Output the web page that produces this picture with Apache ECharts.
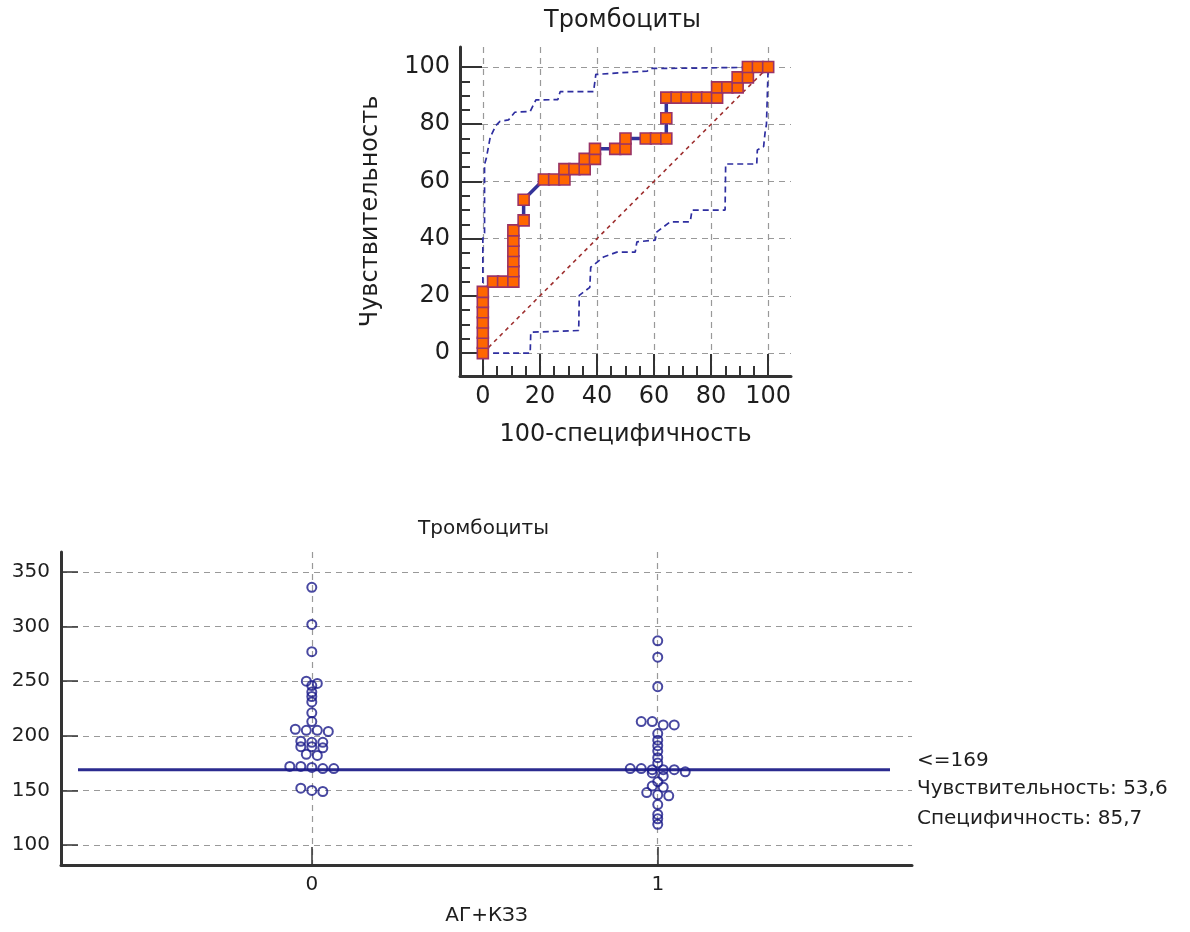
<!DOCTYPE html>
<html><head><meta charset="utf-8">
<script src="https://cdn.jsdelivr.net/npm/echarts@6/dist/echarts.min.js"></script>
<style>html,body{margin:0;padding:0;background:#fff}#c{width:1190px;height:932px}</style>
</head><body><div id="c"></div>
<script>
// ---------- data ----------
const TITLE = 'Тромбоциты';
const ROC_X_NAME = '100-специфичность';
const ROC_Y_NAME = 'Чувствительность';
// ROC curve points (100-specificity, sensitivity)
const ROC_X = [0,0,0,0,0,0,0, 3.6,7.1,10.7, 10.7,10.7,10.7,10.7,10.7, 14.3,14.3, 21.4,25,28.6, 28.6, 32.1,35.7, 35.7, 39.3, 39.3, 46.4, 50, 50, 57.1,60.7,64.3, 64.3, 64.3, 67.9,71.4,75,78.6,82.1, 82.1, 85.7,89.3, 89.3, 92.9, 92.9, 96.4, 100];
const ROC_Y = [0,3.6,7.1,10.7,14.3,17.9,21.4, 25,25,25, 28.6,32.1,35.7,39.3,42.9, 46.4,53.6, 60.7,60.7,60.7, 64.3, 64.3,64.3, 67.9, 67.9, 71.4, 71.4, 71.4, 75, 75,75,75, 82.1, 89.3, 89.3,89.3,89.3,89.3,89.3, 92.9, 92.9,92.9, 96.4, 96.4, 100, 100, 100];
// confidence bounds
const UPPER_X = [0,0,0.6,0.6,1.2,2.6,4.6,6,9,11.2,16.6,18.6,26.3,27.1,38.8,39.6,57.6,58.6,72.5,73,100];
const UPPER_Y = [0,40,42,66,68,75.5,79.6,81,81.5,84.2,84.5,88.5,88.6,91.4,91.4,97.4,98.6,99.5,99.6,100,100];
const LOWER_X = [3.6,16.6,16.8,33.6,33.8,37.5,37.8,42.3,47,53.4,54,60.4,61,65.7,72.7,73.3,84.9,85.1,96,96.2,98.4,98.9,99.4,100];
const LOWER_Y = [0,0,7.3,7.9,20.2,23,30,33.6,35.3,35.3,38.9,39.5,42.4,45.9,45.9,50,50,66.1,66.1,71,72.2,77,80,100];
const DIAG_X = [0,100];
const DIAG_Y = [0,100];
const ROC_TICKS = [0,20,40,60,80,100];
const ROC_MINOR = [5,10,15,25,30,35,45,50,55,65,70,75,85,90,95];

// dot plot
const GROUP_NAME = 'АГ+КЗЗ';
const GROUPS = ['0','1'];
const GROUP0 = [336,302,277,250,248,246,240,236,231,221,213,206,205,205,204,195,194,194,190,190,189,183,182,172,172,171,170,170,152,150,149];
const GROUP1 = [287,272,245,213,213,210,210,202,196,191,186,180,175,170,170,169,169,169,167,166,163,158,154,153,148,146,145,137,128,124,119];
const CUTOFF = 169;
const SENS = '53,6';
const SPEC = '85,7';
const DOT_TICKS = [100,150,200,250,300,350];

// ---------- styles ----------
const FONT = 'DejaVu Sans';
const AX = '#333333';
const TXT = '#1e1e1e';
const GRIDLINE = {color:'#999999', width:1.2, type:[6,5]};
const pairs = (xs, ys) => xs.map((x,i)=>[x, ys[i]]);

const chart = echarts.init(document.getElementById('c'));

const option = {
  animation:false,
  backgroundColor:'#ffffff',
  textStyle:{fontFamily:FONT},
  grid:[
    {left:460, top:47, width:331, height:329},
    {left:61, top:552, width:851, height:313}
  ],
  xAxis:[
    {gridIndex:0, type:'value', min:-8, max:108, position:'bottom',
     axisLine:{onZero:false, lineStyle:{color:AX, width:3}},
     axisTick:{inside:true, length:22, lineStyle:{color:AX, width:2}, customValues:ROC_TICKS},
     axisLabel:{customValues:ROC_TICKS, fontSize:24, color:TXT, margin:9, fontFamily:FONT},
     splitLine:{show:true, lineStyle:GRIDLINE},
     name:ROC_X_NAME, nameLocation:'middle', nameGap:47,
     nameTextStyle:{fontSize:24, color:TXT, fontFamily:FONT}},
    {gridIndex:0, type:'value', min:-8, max:108, position:'bottom',
     axisLine:{show:false, onZero:false},
     axisTick:{inside:true, length:10, lineStyle:{color:AX, width:2}, customValues:ROC_MINOR},
     axisLabel:{show:false}, splitLine:{show:false}},
    {gridIndex:1, type:'value', min:-0.725, max:1.735, position:'bottom',
     axisLine:{onZero:false, lineStyle:{color:AX, width:3}},
     axisTick:{inside:true, length:18, lineStyle:{color:AX, width:1.5}, customValues:[0,1]},
     axisLabel:{customValues:[0,1], formatter:v=>GROUPS[Math.round(v)], fontSize:20, color:TXT, margin:10, fontFamily:FONT},
     splitLine:{show:true, lineStyle:GRIDLINE},
     name:GROUP_NAME, nameLocation:'middle', nameGap:41,
     nameTextStyle:{fontSize:20, color:TXT, fontFamily:FONT}}
  ],
  yAxis:[
    {gridIndex:0, type:'value', min:-8, max:107, position:'left',
     axisLine:{onZero:false, lineStyle:{color:AX, width:3}},
     axisTick:{inside:true, length:22, lineStyle:{color:AX, width:2}, customValues:ROC_TICKS},
     axisLabel:{customValues:ROC_TICKS, fontSize:24, color:TXT, margin:10, fontFamily:FONT},
     splitLine:{show:true, lineStyle:GRIDLINE},
     name:ROC_Y_NAME, nameLocation:'middle', nameGap:77,
     nameTextStyle:{fontSize:24, color:TXT, fontFamily:FONT}},
    {gridIndex:0, type:'value', min:-8, max:107, position:'left',
     axisLine:{show:false, onZero:false},
     axisTick:{inside:true, length:10, lineStyle:{color:AX, width:2}, customValues:ROC_MINOR},
     axisLabel:{show:false}, splitLine:{show:false}},
    {gridIndex:1, type:'value', min:81.7, max:368.3, position:'left',
     axisLine:{onZero:false, lineStyle:{color:AX, width:3}},
     axisTick:{inside:true, length:17, lineStyle:{color:AX, width:1.5}, customValues:DOT_TICKS},
     axisLabel:{customValues:DOT_TICKS, fontSize:20, color:TXT, margin:11, fontFamily:FONT},
     splitLine:{show:true, lineStyle:GRIDLINE}}
  ],
  series:[
    {type:'line', xAxisIndex:0, yAxisIndex:0, data:pairs(DIAG_X, DIAG_Y), symbol:'none', silent:true,
     lineStyle:{color:'#9e2f2f', width:1.6, type:[4,4]}, z:2},
    {type:'line', xAxisIndex:0, yAxisIndex:0, data:pairs(UPPER_X, UPPER_Y), symbol:'none', silent:true,
     lineStyle:{color:'#2e2ea0', width:1.7, type:[6,4]}, z:2},
    {type:'line', xAxisIndex:0, yAxisIndex:0, data:pairs(LOWER_X, LOWER_Y), symbol:'none', silent:true,
     lineStyle:{color:'#2e2ea0', width:1.7, type:[6,4]}, z:2},
    {type:'line', xAxisIndex:0, yAxisIndex:0, data:pairs(ROC_X, ROC_Y), symbol:'rect', symbolSize:11,
     showAllSymbol:true,
     lineStyle:{color:'#333399', width:3.5},
     itemStyle:{color:'#ff6600', borderColor:'#993366', borderWidth:1.6}, z:5},
    {type:'line', xAxisIndex:2, yAxisIndex:2, data:[], symbol:'none', silent:true,
     lineStyle:{color:'#2b2b8f', width:3}, z:2},
    {type:'scatter', xAxisIndex:2, yAxisIndex:2, data:[], symbol:'circle', symbolSize:9,
     itemStyle:{color:'rgba(0,0,0,0)', borderColor:'#1a1a8a', borderWidth:2}, z:4},
    {type:'scatter', xAxisIndex:2, yAxisIndex:2, data:[], symbol:'circle', symbolSize:9,
     itemStyle:{color:'rgba(0,0,0,0)', borderColor:'#1a1a8a', borderWidth:2}, z:4}
  ]
};
chart.setOption(option);

// ---------- dot-plot layout (rows of near-equal values spread horizontally) ----------
const pxPerUnit = chart.convertToPixel({xAxisIndex:2}, 1) - chart.convertToPixel({xAxisIndex:2}, 0);
const SPACING = 11 / pxPerUnit;
function layoutRows(values, center, bin){
  const s = values.slice().sort((a,b)=>b-a);
  const pts = [];
  let i = 0;
  while (i < s.length){
    const start = s[i]; const row = [];
    while (i < s.length && start - s[i] < bin){ row.push(s[i]); i++; }
    row.forEach((v,k)=>pts.push([center + (k - (row.length-1)/2) * SPACING, v]));
  }
  return pts;
}
const lineL = chart.convertFromPixel({xAxisIndex:2}, 78);
const lineR = chart.convertFromPixel({xAxisIndex:2}, 890);
const cutPx = chart.convertToPixel({yAxisIndex:2}, CUTOFF);
const g0 = chart.getModel().getComponent('grid', 0).coordinateSystem.getRect();
const g1 = chart.getModel().getComponent('grid', 1).coordinateSystem.getRect();
const txt = (text, x, y, size, align) => ({type:'text', x, y, silent:true,
  style:{text, fontSize:size, fontFamily:FONT, fill:TXT, align:align, verticalAlign:'middle',
         textAlign:align, textVerticalAlign:'middle'}});
chart.setOption({
  series:[{},{},{},{},
    {data:[[lineL, CUTOFF],[lineR, CUTOFF]]},
    {data:layoutRows(GROUP0, 0, 3.5)},
    {data:layoutRows(GROUP1, 1, 3.5)}
  ],
  graphic:[
    txt(TITLE, g0.x + g0.width/2 - 3, 21, 24, 'center'),
    txt(TITLE, g1.x + g1.width/2 - 3, 529, 20, 'center'),
    txt('<=' + CUTOFF, 917, cutPx - 9, 20, 'left'),
    txt('Чувствительность: ' + SENS, 917, cutPx + 19, 20, 'left'),
    txt('Специфичность: ' + SPEC, 917, cutPx + 49, 20, 'left')
  ]
});
</script></body></html>
